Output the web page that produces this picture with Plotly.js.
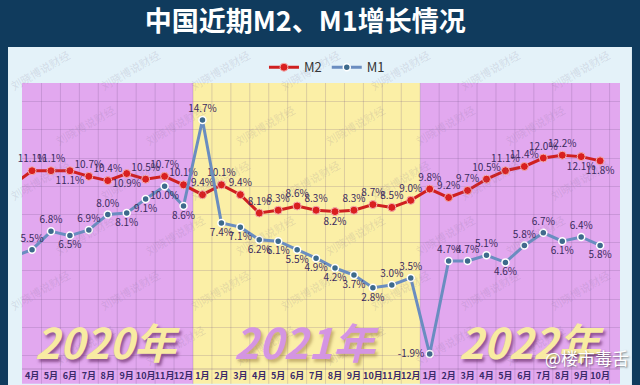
<!DOCTYPE html>
<html>
<head>
<meta charset="utf-8">
<script src="https://cdn.plot.ly/plotly-3.0.1.min.js"></script>
<style>html,body{margin:0;padding:0;background:#0f3a5c;}#chart{width:640px;height:385px;}</style>
</head>
<body>
<div id="chart"></div>
<script>
// Months: 2020-03 ... 2022-10
const months = ['3月','4月','5月','6月','7月','8月','9月','10月','11月','12月',
  '1月','2月','3月','4月','5月','6月','7月','8月','9月','10月','11月','12月',
  '1月','2月','3月','4月','5月','6月','7月','8月','9月','10月'];
const years = ['2020年','2021年','2022年'];
const monthsPerYear = [10, 12, 10];   // points belonging to each year band
const m2 = [10.1, 11.1, 11.1, 11.1, 10.7, 10.4, 10.9, 10.5, 10.7, 10.1,
  9.4, 10.1, 9.4, 8.1, 8.3, 8.6, 8.3, 8.2, 8.3, 8.7, 8.5, 9.0,
  9.8, 9.2, 9.7, 10.5, 11.1, 11.4, 12.0, 12.2, 12.1, 11.8];
const m1 = [5.0, 5.5, 6.8, 6.5, 6.9, 8.0, 8.1, 9.1, 10.0, 8.6,
  14.7, 7.4, 7.1, 6.2, 6.1, 5.5, 4.9, 4.2, 3.7, 2.8, 3.0, 3.5,
  -1.9, 4.7, 4.7, 5.1, 4.6, 5.8, 6.7, 6.1, 6.4, 5.8];

const xs = months.map((_, i) => i);
const T = 'top center', B = 'bottom center';
const m2Pos = [T,T,T,B,T,T,B,T,T,T, T,T,T,T,T,T,T,B,T,T,T,T, T,T,T,T,T,T,T,T,B,B];
const m1Pos = [T,T,T,B,T,T,B,B,B,B, T,B,B,B,B,B,B,B,B,B,T,T, 'middle left',T,T,T,B,T,T,B,T,B];
const lbl = arr => arr.map((v, i) => i === 0 ? '' : v.toFixed(1) + '%');

const xMin = 0.47, xMax = 32.05;
const labelFont = {family: 'Noto Sans CJK SC, Noto Sans, sans-serif', size: 10, color: '#3b2b5e'};

const traces = [
  {x: xs, y: m2, name: 'M2', type: 'scatter', mode: 'lines+markers+text',
   line: {color: '#cf2020', width: 3},
   marker: {color: '#d91f1f', size: 8, line: {color: '#f4b0b0', width: 1}},
   text: lbl(m2), textposition: m2Pos, textfont: labelFont, cliponaxis: false},
  {x: xs, y: m1, name: 'M1', type: 'scatter', mode: 'lines+markers+text',
   line: {color: '#6a8dc0', width: 3},
   marker: {color: '#3d6a8c', size: 7, line: {color: '#ffffff', width: 1.5}},
   text: lbl(m1), textposition: m1Pos, textfont: labelFont, cliponaxis: false}
];

const shapes = [];
// light panel
shapes.push({type: 'rect', xref: 'paper', yref: 'paper', x0: -0.0234, x1: 1.02, y0: -0.08, y1: 1.126,
  fillcolor: '#e4f2f9', line: {width: 0}, layer: 'below'});
// year bands
const bandColors = ['#e2a8ef', '#fbefa6', '#e2a8ef'];
let start = 0;
monthsPerYear.forEach((n, k) => {
  const x0 = k === 0 ? xMin : start - 0.5;
  const x1 = k === monthsPerYear.length - 1 ? xMax : start + n - 0.5;
  shapes.push({type: 'rect', xref: 'x', yref: 'paper', x0: x0, x1: x1, y0: -0.052, y1: 1,
    fillcolor: bandColors[k], line: {width: 0}, layer: 'below'});
  start += n;
});
// vertical grid / label cell separators
for (let i = 1; i < months.length; i++) {
  shapes.push({type: 'line', xref: 'x', yref: 'paper', x0: i + 0.5, x1: i + 0.5, y0: -0.052, y1: 1,
    line: {color: 'rgba(110,80,130,0.22)', width: 1}, layer: 'below'});
}
shapes.push({type: 'line', xref: 'paper', yref: 'paper', x0: 0, x1: 1, y0: 0, y1: 0,
  line: {color: 'rgba(110,80,130,0.35)', width: 1}, layer: 'below'});

const annotations = [];
// watermark grid
for (let r = 0; r < 6; r++) {
  for (let c = 0; c < 7; c++) {
    const px = 40 + c * 90 + (r % 2) * 45;
    const py = 70 + r * 55;
    if (px > 590) continue;
    annotations.push({xref: 'paper', yref: 'paper', x: (px - 22) / 598, y: (369 - py) / 286,
      xanchor: 'center', yanchor: 'middle',
      text: '刘晓博说财经', showarrow: false, textangle: -30,
      font: {family: 'Noto Sans CJK SC', size: 11, color: 'rgba(120,110,140,0.18)'}});
  }
}
// year labels
const yearX = [5, 15.5, 27.4];
const yearColor = ['#f8eba2', '#d495e2', '#f8eba2'];
const yearShadow = ['2px 3px 3px rgba(110,50,110,0.7)', '2px 3px 3px rgba(150,120,60,0.5)', '2px 3px 3px rgba(110,50,110,0.7)'];
years.forEach((y, k) => {
  annotations.push({xref: 'x', yref: 'paper', x: yearX[k], y: 0.1, xanchor: 'center', yanchor: 'middle',
    text: y, showarrow: false,
    font: {family: 'Noto Sans CJK SC', size: 42, weight: 'bold', style: 'italic', color: yearColor[k], shadow: yearShadow[k]}});
});
annotations.push({xref: 'paper', yref: 'paper', x: (631 - 22) / 598, xanchor: 'right', y: 0.04, yanchor: 'middle',
  text: '@楼市毒舌', showarrow: false,
  font: {family: 'Noto Sans CJK SC', size: 17, color: '#ffffff', shadow: '1px 1px 2px rgba(0,0,0,0.5)'}});

const layout = {
  width: 640, height: 385,
  margin: {l: 22, r: 20, t: 83, b: 16},
  paper_bgcolor: '#103b5d', plot_bgcolor: 'rgba(0,0,0,0)',
  title: {text: '中国近期M2、M1增长情况', x: 0.477, xref: 'container', xanchor: 'center', y: 0.943, yref: 'container', yanchor: 'middle',
    font: {family: 'Noto Sans CJK SC', size: 27, weight: 'bold', color: '#ffffff'}},
  showlegend: true,
  legend: {orientation: 'h', x: 0.51, xanchor: 'center', y: 1.055, yanchor: 'middle',
    font: {family: 'Noto Sans CJK SC, Noto Sans', size: 13, color: '#333333'}, bgcolor: 'rgba(0,0,0,0)'},
  xaxis: {range: [xMin, xMax], tickvals: xs.slice(1), ticktext: months.slice(1), tickangle: 0,
    showgrid: false, zeroline: false, showline: false, ticks: '', ticklen: 0,
    tickfont: {family: 'Noto Sans CJK SC', size: 9, weight: 'bold', color: '#3a2a6a'}, fixedrange: true},
  yaxis: {range: [-2.96, 17.32], dtick: 2, showgrid: true, gridcolor: 'rgba(110,80,130,0.2)',
    zeroline: false, showticklabels: false, ticks: '', fixedrange: true},
  shapes: shapes, annotations: annotations
};

Plotly.newPlot('chart', traces, layout, {displayModeBar: false, staticPlot: true});
</script>
</body>
</html>
